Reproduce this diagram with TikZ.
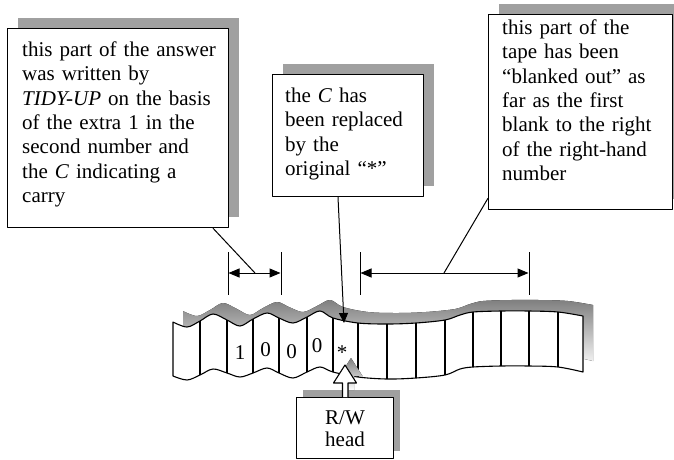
\documentclass[tikz,border=0pt]{standalone}
\usepackage{fontspec}
\setmainfont{Liberation Serif}
\usetikzlibrary{arrows.meta,shadows}
\definecolor{shade}{RGB}{160,160,160}
\begin{document}
\begin{tikzpicture}[x=1pt,y=-1pt,line join=round,
  note/.style={draw,line width=1.2pt,fill=white,inner sep=0pt,anchor=north west,
    drop shadow={shadow xshift=10pt,shadow yshift=11pt,fill=shade,opacity=1}},
  headbox/.style={draw,line width=1.2pt,fill=white,inner sep=0pt,anchor=north west,
    drop shadow={shadow xshift=6pt,shadow yshift=8pt,fill=shade,opacity=1}},
  notetext/.style={inner sep=0pt,anchor=north west,align=left,text width=#1,
    font=\fontsize{21}{24.4}\selectfont},
  digit/.style={inner sep=0pt,anchor=base,font=\fontsize{21}{24}\selectfont},
  tapeline/.style={line width=1.1pt},
  lead/.style={line width=1pt},
  dimtip/.style={line width=1pt,{Triangle[length=11pt,width=9pt]}-{Triangle[length=11pt,width=9pt]}},
]
\clip (0,0) rectangle (674,459);

% ---- tape: shadow, outline, cell boundaries
\fill[shade,shift={(10,-11)}]
  plot[smooth,tension=0.55] coordinates {(173,322) (187,327) (200,321) (213,314) (227,320)
    (240,326) (253,319) (267,313) (279,318) (293,323) (307,317) (320,311) (333,318)
    (358,323) (387,324) (416,323) (445,320) (460,315) (473,312) (501,311) (529,311)
    (558,312) (583,316)}
  -- plot[smooth,tension=0.55] coordinates {(583,372) (558,367) (529,366) (501,366)
    (473,367) (460,369) (445,375) (416,378) (387,379) (358,377) (333,372) (320,367)
    (307,372) (293,378) (279,373) (267,368) (253,373) (240,377) (227,373) (213,369)
    (200,375) (187,380) (173,376)} -- cycle;
\draw[tapeline,fill=white]
  plot[smooth,tension=0.55] coordinates {(173,322) (187,327) (200,321) (213,314) (227,320)
    (240,326) (253,319) (267,313) (279,318) (293,323) (307,317) (320,311) (333,318)
    (358,323) (387,324) (416,323) (445,320) (460,315) (473,312) (501,311) (529,311)
    (558,312) (583,316)}
  -- plot[smooth,tension=0.55] coordinates {(583,372) (558,367) (529,366) (501,366)
    (473,367) (460,369) (445,375) (416,378) (387,379) (358,377) (333,372) (320,367)
    (307,372) (293,378) (279,373) (267,368) (253,373) (240,377) (227,373) (213,369)
    (200,375) (187,380) (173,376)} -- cycle;
\foreach \x/\a/\b in {200/321/375,227/320/373,253/319/373,279/318/373,307/317/372,
    333/318/372,358/323/377,387/324/379,416/323/378,445/320/375,473/312/367,
    501/311/366,529/311/366,558/312/367}
  \draw[tapeline] (\x,\a) -- (\x,\b);

% ---- symbols on the tape
\node[digit] (d1) at (240,359.5) {1};
\node[digit] (d2) at (265.5,356) {0};
\node[digit] (d3) at (291.5,358) {0};
\node[digit] (d4) at (317,352) {0};
\node[digit] (d5) at (342,359) {*};

% ---- explanatory notes
\node[note,minimum width=221pt,minimum height=199pt] (b1) at (7,28) {};
\node[notetext=205pt] (t1) at (22,41.3) {this part of the answer\\was written by\\\textit{TIDY-UP} on the basis\\of the extra 1 in the\\second number and\\the \textit{C} indicating a\\carry};

\node[note,minimum width=151pt,minimum height=122pt] (b2) at (272,74) {};
\node[notetext=135pt] (t2) at (285,87.8) {the \textit{C} has\\been replaced\\by the\\original “*”};

\node[note,minimum width=184pt,minimum height=195pt] (b3) at (488,14) {};
\node[notetext=168pt] (t3) at (502,19.3) {this part of the\\tape has been\\“blanked out” as\\far as the first\\blank to the right\\of the right-hand\\number};

% ---- dimension marks
\draw[lead] (228,252) -- (228,295);
\draw[lead] (281,252) -- (281,295);
\draw[lead] (360,252) -- (360,295);
\draw[lead] (529,252) -- (529,295);
\coordinate (aL) at (228.5,273);
\coordinate (aR) at (280.5,273);
\coordinate (bL) at (360.5,273);
\coordinate (bR) at (528.5,273);
\draw[dimtip] (aL) -- (aR);
\draw[dimtip] (bL) -- (bR);

% ---- leaders from the notes
\coordinate (dl) at (255,273);
\coordinate (dr) at (444,273);
\coordinate (tipc) at (344,323);
\draw[lead] ([xshift=206pt]b1.south west) -- (dl);
\draw[lead] ([yshift=12pt]b3.south west) -- (dr);
\draw[lead,-{Triangle[length=10pt,width=9pt]}] ([xshift=66pt]b2.south west) -- (tipc);

% ---- read/write head
\node[headbox,minimum width=97pt,minimum height=61pt] (hb) at (296,397) {};
\node[inner sep=0pt,anchor=north,align=center,font=\fontsize{21}{22}\selectfont] (ht) at (345,410.4) {R/W\\head};
\fill[shade,shift={(6,-7)}] (342.5,397) -- (342.5,383) -- (333.5,383) -- (345,365)
  -- (356.5,383) -- (348,383) -- (348,397) -- cycle;
\draw[line width=1.1pt,fill=white] (342.5,397) -- (342.5,383) -- (333.5,383) -- (345,365)
  -- (356.5,383) -- (348,383) -- (348,397);
\end{tikzpicture}
\end{document}
